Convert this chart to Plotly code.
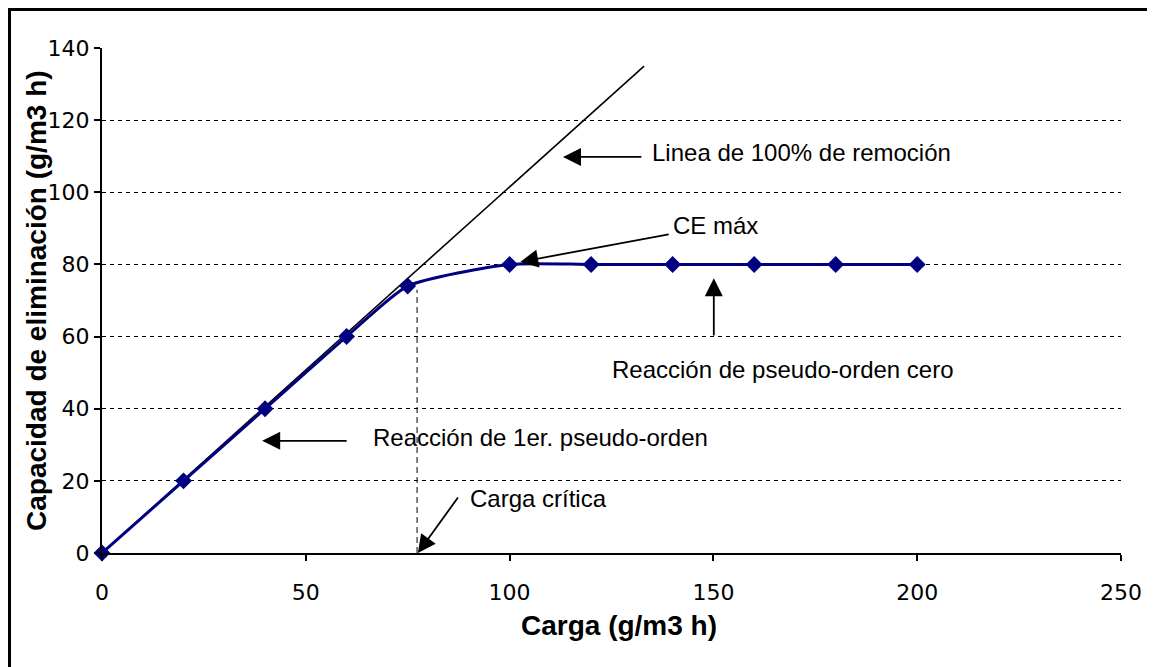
import plotly.graph_objects as go

# Data
carga = [0, 20, 40, 60, 75, 100, 120, 140, 160, 180, 200]
capacidad = [0, 20, 40, 60, 74, 80, 80, 80, 80, 80, 80]
linea100_x = [0, 133]
linea100_y = [0, 135]
carga_critica_x = [77.3, 77.3]
carga_critica_y = [0, 73]
x_ticks = [0, 50, 100, 150, 200, 250]
y_ticks = [0, 20, 40, 60, 80, 100, 120, 140]

fig = go.Figure()

fig.add_trace(go.Scatter(x=linea100_x, y=linea100_y, mode="lines",
                         line=dict(color="black", width=1.6), showlegend=False))
fig.add_trace(go.Scatter(x=carga_critica_x, y=carga_critica_y, mode="lines",
                         line=dict(color="black", width=1, dash="6px,4px"), showlegend=False))
fig.add_trace(go.Scatter(x=carga, y=capacidad, mode="lines+markers",
                         line=dict(color="#000080", width=3, shape="spline", smoothing=0.6),
                         marker=dict(symbol="diamond", size=13, color="#000080"),
                         cliponaxis=False, showlegend=False))

ann_font = dict(family="Liberation Sans, Arial", size=24, color="black")

def arrow(hx, hy, tx, ty):
    fig.add_annotation(x=hx, y=hy, ax=tx, ay=ty, xref="x", yref="y", axref="x", ayref="y",
                       text="", showarrow=True, arrowhead=2, arrowsize=2, arrowwidth=1.8,
                       arrowcolor="black", standoff=0, startstandoff=0)

def label(x, y, text, xanchor="left"):
    fig.add_annotation(x=x, y=y, xref="x", yref="y", text=text, showarrow=False,
                       xanchor=xanchor, yanchor="middle", font=ann_font)

arrow(113.1, 109.8, 132.7, 109.8)
label(134.4, 110.9, "Linea de 100% de remoción")
arrow(102.6, 80.7, 139.4, 88.4)
label(150.6, 90.7, "CE máx", xanchor="center")
arrow(150.1, 76.2, 150.1, 59.9)
label(167.0, 51.0, "Reacción de pseudo-orden cero", xanchor="center")
arrow(39.3, 31.1, 60.4, 31.1)
label(66.0, 31.9, "Reacción de 1er. pseudo-orden")
arrow(77.5, 0, 87.6, 15.8)
label(89.8, 15.2, "Carga crítica")

# axis titles
title_font = dict(family="Liberation Sans, Arial", size=28, color="black")
fig.add_annotation(x=0.5074, y=-0.1426, xref="paper", yref="paper", text="<b>Carga (g/m3 h)</b>",
                   showarrow=False, xanchor="center", yanchor="middle", font=title_font)
fig.add_annotation(x=-0.0638, y=0.501, xref="paper", yref="paper",
                   text="<b>Capacidad de eliminación (g/m3 h)</b>", textangle=-90,
                   showarrow=False, xanchor="center", yanchor="middle", font=title_font)

# outer frame
fig.add_shape(type="rect", xref="paper", yref="paper", x0=-0.09225, x1=1.1, y0=-0.3, y1=1.0792,
              line=dict(color="black", width=6))

tick_font = dict(family="DejaVu Sans, Verdana", size=22, color="black")

fig.update_xaxes(range=[0, 250], tickvals=x_ticks, showgrid=False, zeroline=False,
                 showline=True, linecolor="black", linewidth=2, ticks="outside", ticklen=6,
                 tickwidth=2, tickcolor="black", tickfont=tick_font, ticklabelstandoff=13)
fig.update_yaxes(range=[0, 140], tickvals=y_ticks, showgrid=True, gridcolor="black",
                 griddash="4px,4px", gridwidth=1, zeroline=False,
                 showline=True, linecolor="black", linewidth=2, ticks="outside", ticklen=6,
                 tickwidth=2, tickcolor="black", tickfont=tick_font)

fig.update_layout(width=1155, height=667, margin=dict(l=94, r=42, t=40, b=122),
                  plot_bgcolor="white", paper_bgcolor="white")

fig.write_html("out.html")
